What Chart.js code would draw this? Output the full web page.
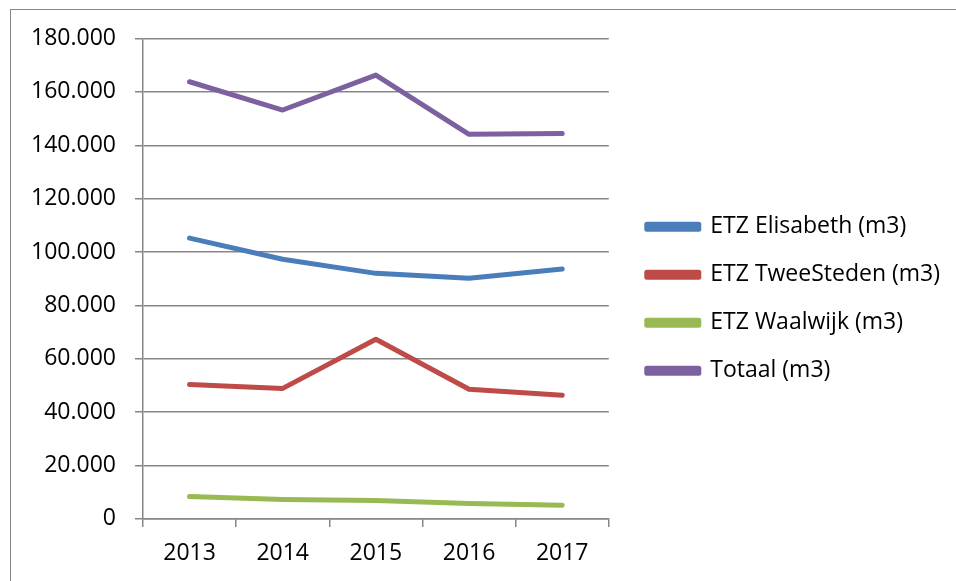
<!DOCTYPE html>
<html>
<head>
<meta charset="utf-8">
<script src="https://cdn.jsdelivr.net/npm/chart.js@4.4.0/dist/chart.umd.min.js"></script>
<style>
  html, body { margin: 0; padding: 0; background: #fff; overflow: hidden; }
  #frame { position: absolute; left: 10px; top: 9px; width: 1000px; height: 700px; border: 1.5px solid #868686; box-sizing: border-box; }
  #wrap { position: absolute; left: 0; top: 0; width: 956px; height: 581px; }
</style>
</head>
<body>
<div id="frame"></div>
<div id="wrap"><canvas id="lineCanvas" width="956" height="581"></canvas></div>
<script>
// years on the x axis
var years = ["2013", "2014", "2015", "2016", "2017"];

// values in m3
var elisabeth = [105200, 97300, 92000, 90200, 93600];
var tweeSteden = [50400, 48900, 67300, 48600, 46300];
var waalwijk = [8400, 7300, 6900, 5800, 5100];
var totaal = [163800, 153200, 166300, 144100, 144400];

var seriesNames = ["ETZ Elisabeth (m3)", "ETZ TweeSteden (m3)", "ETZ Waalwijk (m3)", "Totaal (m3)"];
var seriesColors = ["#4A7EBB", "#BE4B48", "#98B954", "#7D60A0"];

var yTicks = [0, 20000, 40000, 60000, 80000, 100000, 120000, 140000, 160000, 180000];

function dutchNumber(v){
    return String(v).replace(/\B(?=(\d{3})+(?!\d))/g, ".");
}

Chart.defaults.font.family = "'Open Sans', 'Liberation Sans', sans-serif";
Chart.defaults.color = "#000";

var allData = [elisabeth, tweeSteden, waalwijk, totaal];
var datasets = [];
for (var i = 0; i < allData.length; i++) {
    datasets.push({
        label: seriesNames[i],
        data: allData[i],
        borderColor: seriesColors[i],
        backgroundColor: seriesColors[i],
        borderWidth: 5,
        borderCapStyle: 'round',
        borderJoinStyle: 'round',
        pointRadius: 0,
        tension: 0
    });
}

var config = {
    type: 'line',
    data: {
        labels: years,
        datasets: datasets
    },
    options: {
        responsive: false,
        animation: false,
        layout: { padding: { left: 12, right: 6, top: 38.5, bottom: 1.5 } },
        plugins: {
            tooltip: { enabled: false },
            legend: {
                position: 'right',
                fullSize: false,
                maxWidth: 500,
                // blank title only used to push the items down a bit
                title: { display: true, text: ' ', font: { size: 11 }, padding: { top: 13.5, bottom: 13.5 } },
                labels: {
                    boxWidth: 52,
                    boxHeight: 5,
                    padding: 25,
                    font: { size: 23 },
                    color: '#000'
                }
            }
        },
        scales: {
            x: {
                offset: true,
                grid: {
                    offset: true,
                    drawOnChartArea: false,
                    drawTicks: true,
                    tickLength: 8,
                    color: '#868686',
                    lineWidth: 1.5
                },
                border: { color: '#868686', width: 1.5 },
                ticks: { font: { size: 23 }, padding: 12.5, color: '#000' }
            },
            y: {
                min: 0,
                max: 180000,
                afterBuildTicks: function(axis){
                    axis.ticks = yTicks.map(function(v){ return { value: v }; });
                },
                grid: {
                    color: '#868686',
                    lineWidth: 1.5,
                    tickLength: 8
                },
                border: { color: '#868686', width: 1.5 },
                ticks: {
                    font: { size: 23 },
                    padding: 19,
                    color: '#000',
                    callback: function(v){ return dutchNumber(v); }
                }
            },
            // empty spacer between plot and legend
            gap: {
                position: 'right',
                display: true,
                grid: { display: false },
                border: { display: false },
                ticks: { display: false },
                afterFit: function(s){ s.width = 13; }
            }
        }
    }
};

new Chart(document.getElementById('lineCanvas'), config);
</script>
</body>
</html>
